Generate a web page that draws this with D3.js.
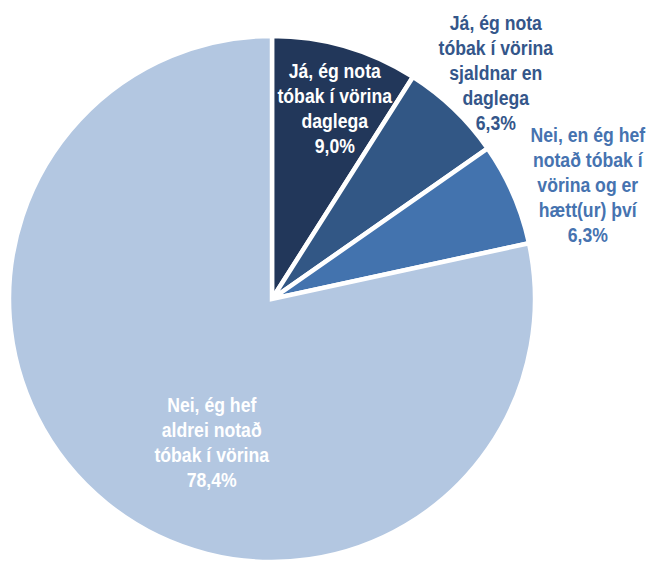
<!DOCTYPE html>
<html>
<head>
<meta charset="utf-8">
<script src="https://cdn.jsdelivr.net/npm/d3@7/dist/d3.min.js"></script>
<style>
  html, body { margin: 0; padding: 0; background: #ffffff; }
  svg { display: block; }
  .lbl { font-family: "Liberation Sans", Arial, sans-serif; font-weight: bold; font-size: 21px; }
</style>
</head>
<body>
<svg id="chart" width="649" height="562"></svg>
<script>
// Survey answers, in clockwise order from 12 o'clock
const categories = [
  "Já, ég nota tóbak í vörina daglega",
  "Já, ég nota tóbak í vörina sjaldnar en daglega",
  "Nei, en ég hef notað tóbak í vörina og er hætt(ur) því",
  "Nei, ég hef aldrei notað tóbak í vörina"
];
const values = [9.0, 6.3, 6.3, 78.4];
const labelLines = [
  ["Já, ég nota", "tóbak í vörina", "daglega"],
  ["Já, ég nota", "tóbak í vörina", "sjaldnar en", "daglega"],
  ["Nei, en ég hef", "notað tóbak í", "vörina og er", "hætt(ur) því"],
  ["Nei, ég hef", "aldrei notað", "tóbak í vörina"]
];

const colors = ["#22375a", "#325785", "#4373ae", "#b3c7e1"];
const textColors = ["#ffffff", "#34568a", "#4673b0", "#ffffff"];
// label placement: distance from centre and angular nudge (degrees)
const labelRadius = [201, 318, 336, 155];
const labelNudge = [2, 1, 3.6, -16];

const svg = d3.select("#chart");
const cx = 272, cy = 299, R = 263;
const g = svg.append("g").attr("transform", `translate(${cx},${cy})`);

const pie = d3.pie().value(d => d).sort(null);
const arcs = pie(values);
const arc = d3.arc().innerRadius(0).outerRadius(R);

g.selectAll("path.slice")
  .data(arcs)
  .join("path")
  .attr("class", "slice")
  .attr("d", arc)
  .attr("fill", (d, i) => colors[i])
  .attr("stroke", "#ffffff")
  .attr("stroke-width", 4.5)
  .attr("stroke-linejoin", "miter");

const fmt = v => v.toFixed(1).replace(".", ",") + "%";
const lineH = 25;
const squeeze = 0.84; // condensed lettering

arcs.forEach((a, i) => {
  const mid = (a.startAngle + a.endAngle) / 2 + labelNudge[i] * Math.PI / 180;
  const x = Math.sin(mid) * labelRadius[i];
  const y = -Math.cos(mid) * labelRadius[i];
  const lines = labelLines[i].concat([fmt(values[i])]);
  const t = g.append("text")
    .attr("class", "lbl")
    .attr("text-anchor", "middle")
    .attr("fill", textColors[i])
    .attr("transform", `translate(${x},${y - (lines.length - 1) * lineH / 2}) scale(${squeeze},1)`);
  lines.forEach((s, k) => {
    t.append("tspan")
      .attr("x", 0)
      .attr("dy", k === 0 ? "0.35em" : lineH)
      .text(s);
  });
});
</script>
</body>
</html>
